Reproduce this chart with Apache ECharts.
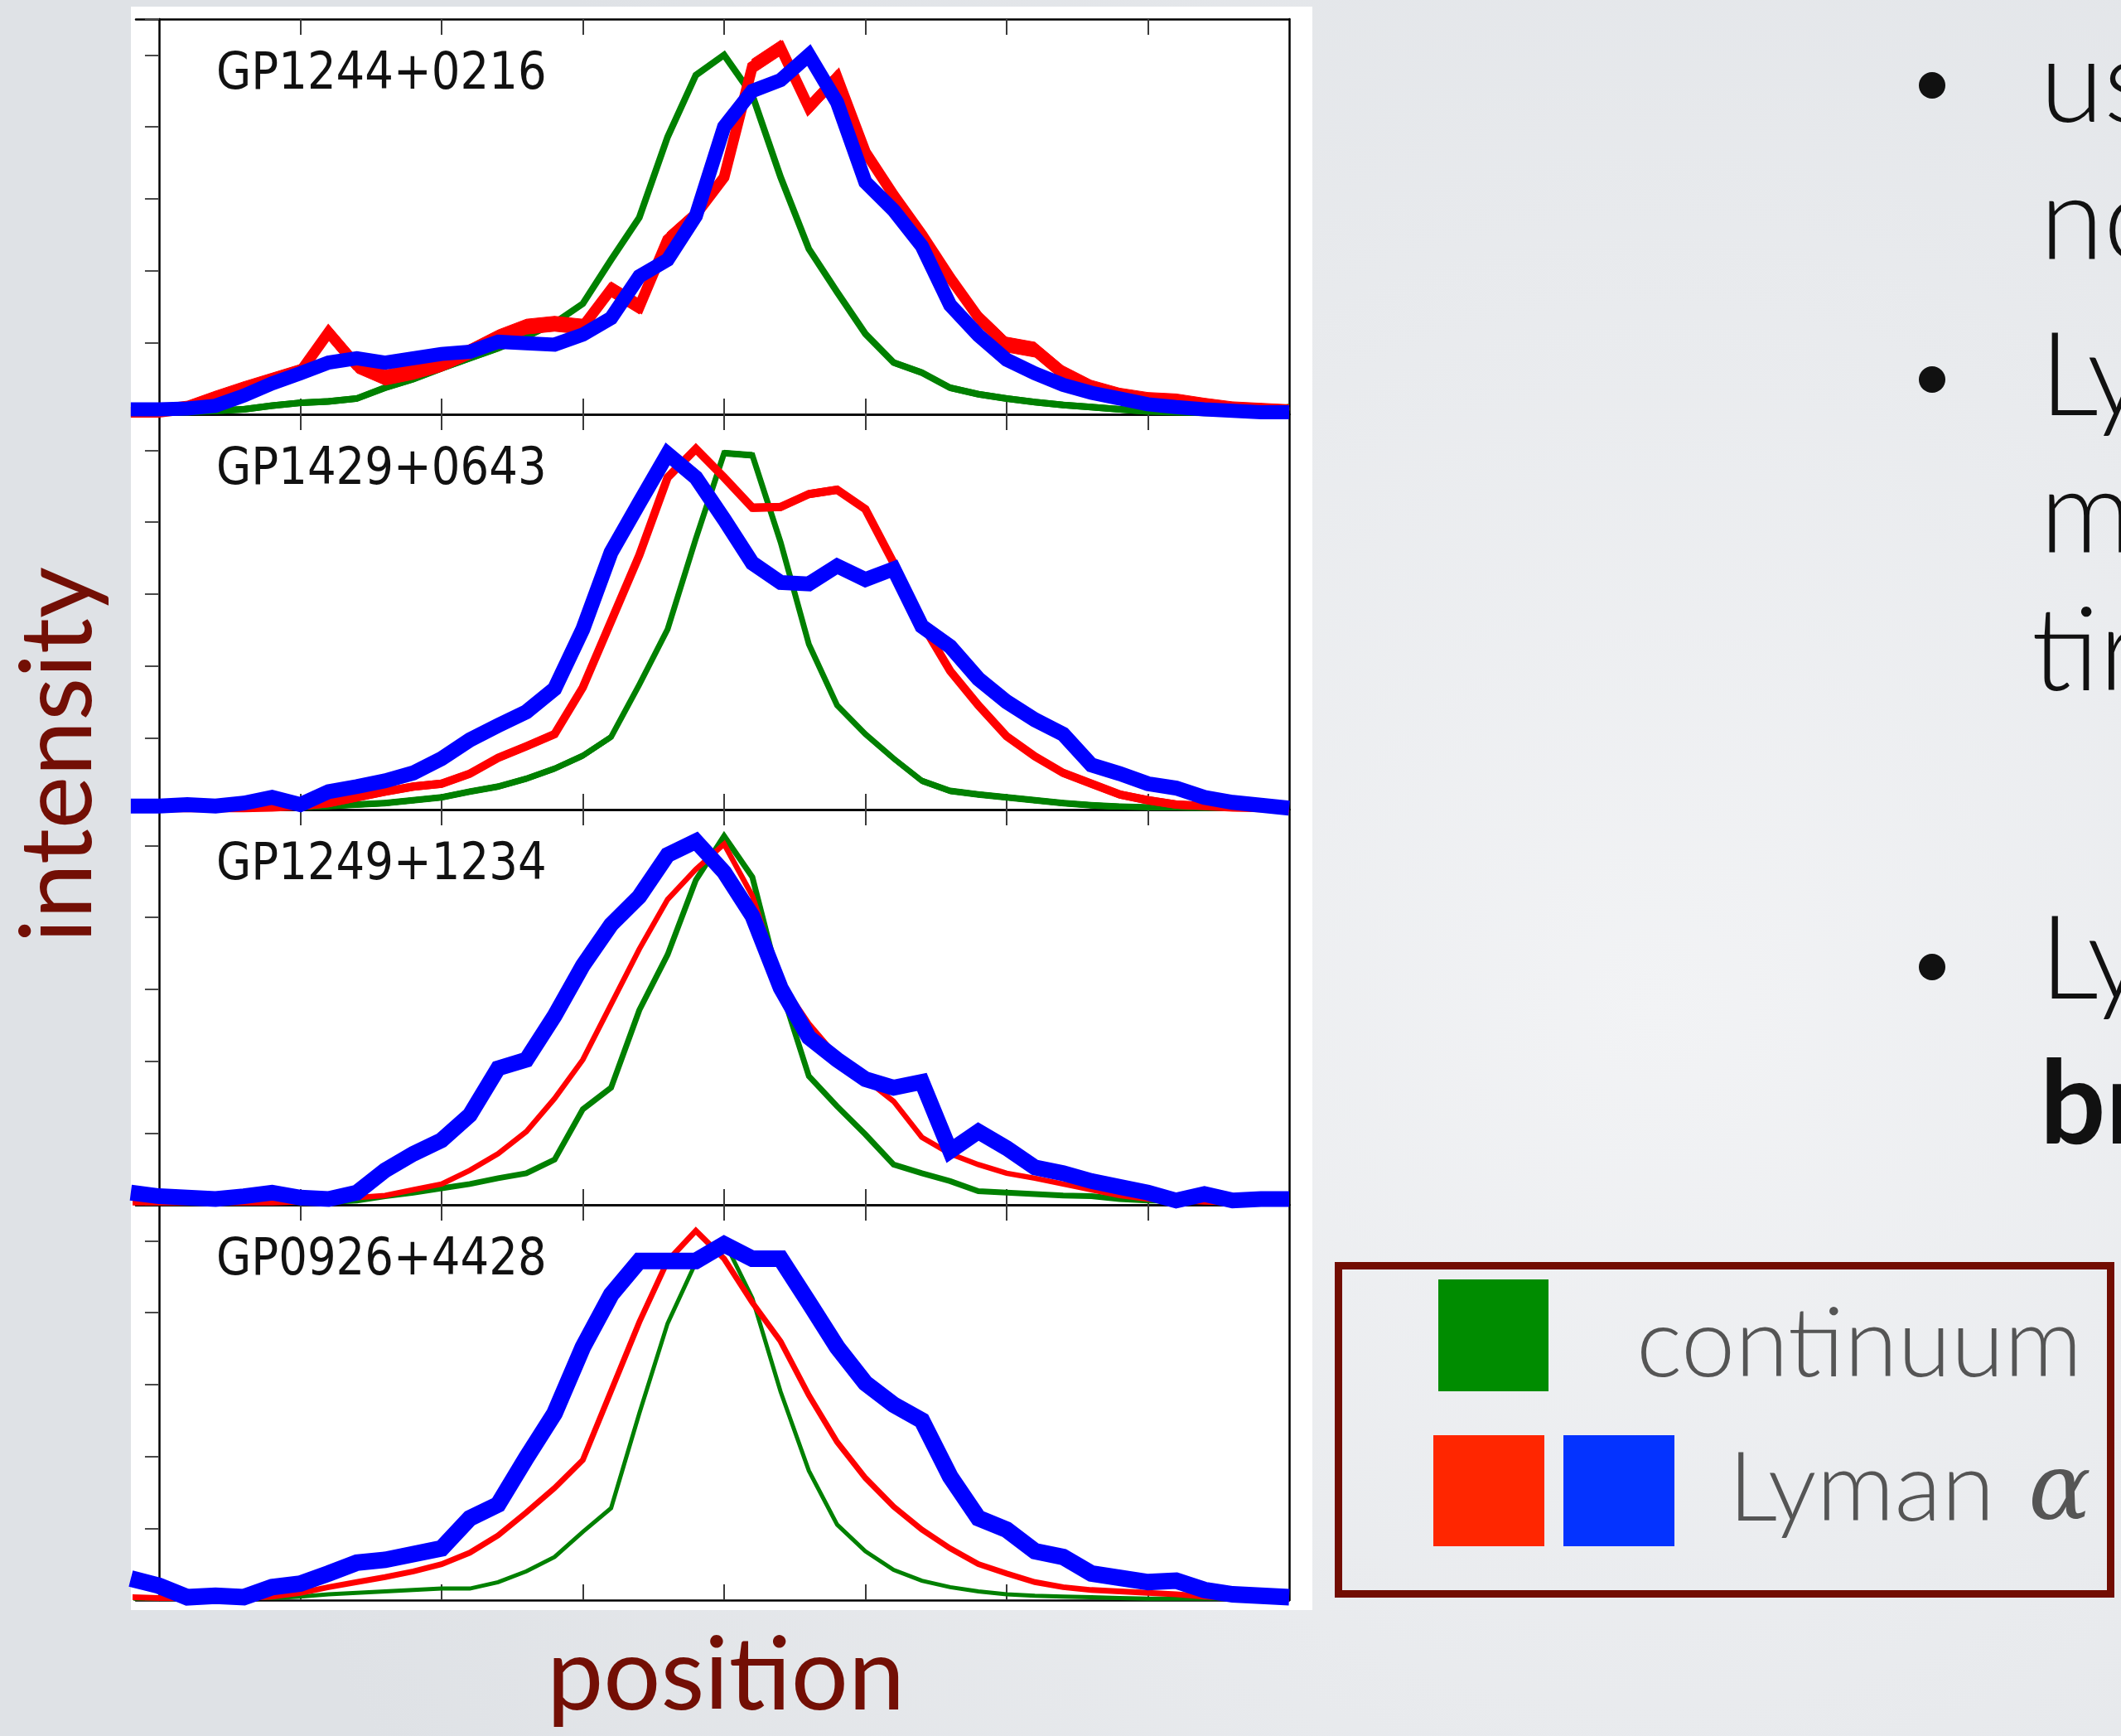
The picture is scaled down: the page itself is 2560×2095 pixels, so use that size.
<!DOCTYPE html>
<html>
<head>
<meta charset="utf-8">
<script src="https://cdn.jsdelivr.net/npm/echarts@6/dist/echarts.min.js"></script>
<style>
html,body{margin:0;padding:0;background:#e8eaed;}
#c{width:2560px;height:2095px;}
</style>
</head>
<body>
<div id="c"></div>
<script>
// ---------- data ----------
const positions = [-0.2,0,0.2,0.4,0.6,0.8,1,1.2,1.4,1.6,1.8,2,2.2,2.4,2.6,2.8,3,3.2,3.4,3.6,3.8,4,4.2,4.4,4.6,4.8,5,5.2,5.4,5.6,5.8,6,6.2,6.4,6.6,6.8,7,7.2,7.4,7.6,7.8,8];
const xTickValues = [1,2,3,4,5,6,7];
const panelNames = ['GP1244+0216','GP1429+0643','GP1249+1234','GP0926+4428'];

const continuum1 = [0.03, 0.03,0.03,0.05,0.07,0.12,0.16,0.18,0.22,0.37,0.49, 0.64,0.78,0.92,1.08,1.27,1.54,2.15,2.74,3.86,4.72, 5.0,4.44,3.3,2.3,1.7,1.12,0.72,0.58,0.37,0.28, 0.22,0.17,0.13,0.1,0.07,0.04,0.03,0.02,0.02,0.03, 0.1];
const lymanRed1  = [0.03, 0.03,0.08,0.22,0.35,0.47,0.59,1.14,0.68,0.51,0.59, 0.70,0.87,1.07,1.22,1.26,1.22,1.74,1.5,2.43,2.78, 3.3,4.84,5.1,4.27,4.69,3.65,3.05,2.5,1.9,1.35, 0.97,0.9,0.57,0.37,0.26,0.2,0.18,0.12,0.07,0.05, 0.03];
const lymanBlue1 = [0.07, 0.07,0.08,0.12,0.26,0.43,0.57,0.72,0.78,0.72,0.78, 0.84,0.87,1.01,0.99,0.97,1.11,1.34,1.92,2.15,2.76, 4.0,4.5,4.65,5.0,4.34,3.23,2.84,2.34,1.52,1.1, 0.76,0.57,0.41,0.3,0.22,0.14,0.1,0.07,0.05,0.03, 0.03];

const continuum2 = [0.03, 0.03,0.03,0.03,0.03,0.03,0.03,0.05,0.07,0.09,0.13, 0.17,0.25,0.32,0.43,0.57,0.75,1.01,1.74,2.51,3.77, 4.96,4.93,3.72,2.3,1.45,1.05,0.71,0.4,0.26,0.21, 0.17,0.13,0.09,0.06,0.04,0.03,0.03,0.02,0.02,0.02, 0.02];
const lymanRed2  = [0.02, 0.02,0.02,0.02,0.02,0.03,0.05,0.09,0.17,0.25,0.32, 0.36,0.5,0.72,0.88,1.05,1.7,2.62,3.54,4.62,5.02, 4.62,4.2,4.21,4.39,4.45,4.18,3.43,2.59,1.93,1.45, 1.02,0.74,0.51,0.36,0.21,0.13,0.07,0.05,0.03,0.02, 0.02];
const lymanBlue2 = [0.05, 0.05,0.07,0.05,0.09,0.17,0.07,0.25,0.32,0.4,0.51, 0.71,0.97,1.17,1.36,1.68,2.51,3.58,4.27,4.95,4.62, 4.04,3.43,3.16,3.14,3.39,3.2,3.35,2.55,2.27,1.82, 1.5,1.25,1.05,0.62,0.5,0.36,0.3,0.17,0.1,0.06, 0.02];

const continuum3 = [0.1, 0.1,0.08,0.06,0.04,0.04,0.04,0.04,0.06,0.12,0.17, 0.23,0.29,0.37,0.44,0.63,1.33,1.63,2.71,3.48,4.52, 5.13,4.56,3.02,1.79,1.37,0.98,0.56,0.44,0.33,0.19, 0.17,0.15,0.13,0.12,0.08,0.06,0.06,0.08,0.1,0.1, 0.1];
const lymanRed3  = [0.03, 0.03,0.03,0.03,0.03,0.03,0.04,0.06,0.1,0.13,0.21, 0.29,0.48,0.71,1.02,1.48,2.02,2.79,3.56,4.25,4.67, 5.02,4.3,3.1,2.52,2.06,1.75,1.44,0.94,0.71,0.56, 0.44,0.37,0.29,0.21,0.13,0.08,0.06,0.04,0.03,0.03, 0.03];
const lymanBlue3 = [0.17, 0.12,0.1,0.08,0.12,0.17,0.1,0.08,0.17,0.48,0.71, 0.9,1.25,1.9,2.02,2.63,3.33,3.9,4.29,4.87,5.06, 4.63,4.02,3.02,2.33,2.02,1.75,1.63,1.71,0.75,1.02, 0.79,0.52,0.44,0.33,0.25,0.17,0.06,0.15,0.06,0.08, 0.08];

const continuum4 = [0.02, 0.02,0.03,0.03,0.03,0.03,0.05,0.08,0.1,0.12,0.14, 0.16,0.16,0.25,0.4,0.6,0.95,1.28,2.6,3.85,4.7, 5.0,4.2,2.9,1.8,1.05,0.68,0.42,0.27,0.18,0.12, 0.08,0.06,0.05,0.04,0.03,0.02,0.02,0.02,0.02,0.02, 0.02];
const lymanRed4  = [0.04, 0.03,0.03,0.03,0.03,0.05,0.1,0.18,0.25,0.32,0.4, 0.5,0.66,0.9,1.22,1.56,1.95,2.91,3.87,4.72,5.14, 4.75,4.14,3.6,2.85,2.2,1.7,1.3,0.98,0.72,0.5, 0.37,0.25,0.18,0.14,0.12,0.1,0.08,0.05,0.03,0.02, 0.02];
const lymanBlue4 = [0.3, 0.2,0.04,0.06,0.04,0.18,0.23,0.37,0.52,0.56,0.64, 0.72,1.14,1.33,1.98,2.6,3.52,4.25,4.72,4.72,4.72, 4.95,4.75,4.75,4.14,3.52,3.02,2.72,2.5,1.72,1.14, 0.98,0.68,0.6,0.37,0.31,0.25,0.27,0.14,0.08,0.06, 0.04];

const legendLabels = ['continuum', 'Lyman', 'α'];
const bulletLines = ['us', 'no', 'Ly', 'm', 'tir', 'Ly', 'br'];

// ---------- styles / layout ----------
const panelData = [
  [continuum1, lymanRed1, lymanBlue1],
  [continuum2, lymanRed2, lymanBlue2],
  [continuum3, lymanRed3, lymanBlue3],
  [continuum4, lymanRed4, lymanBlue4]
];
const lineColors = ['#008000', '#ff0000', '#0000ff'];
// centre-line width (px) and vertical band thickness (px) per panel: [green, red, blue]
const lineWidths = [[8, 13, 17], [7, 10, 18], [7, 6.5, 19], [5, 7, 20]];
const bandPx     = [[7, 18, 10], [7, 9, 8], [3, 2, 9], [1, 1, 15]];
const panelTops = [23, 500, 977, 1454];
const PANEL_H = 477;
const Y_MAX = 5.5;
const PX_PER_UNIT = PANEL_H / Y_MAX;
const GRID_LEFT = 164, GRID_W = 1392;
const DARK_RED = '#730f05';

const grids = [], xAxes = [], yAxes = [], series = [], graphics = [];

// background
graphics.push({
  type: 'rect', z: -20, silent: true,
  shape: { x: 0, y: 0, width: 2560, height: 2095 },
  style: { fill: { type: 'radial', x: 0.78, y: 0.58, r: 0.85,
    colorStops: [{ offset: 0, color: '#f2f3f5' }, { offset: 1, color: '#dfe2e6' }] } }
});
graphics.push({
  type: 'rect', z: -19, silent: true,
  shape: { x: 158, y: 8, width: 1426, height: 1935 },
  style: { fill: '#ffffff' }
});

function bandSeries(k, s, arr) {
  const half = bandPx[k][s] / 2 / PX_PER_UNIT;
  const color = lineColors[s];
  const segs = positions.slice(0, -1).map((x, i) => [x, arr[i], positions[i + 1], arr[i + 1]]);
  return {
    type: 'custom', xAxisIndex: 2 * k, yAxisIndex: 2 * k, silent: true, clip: true,
    z: 2 + 2 * s,
    data: segs,
    encode: { x: [0, 2], y: [1, 3] },
    renderItem: function (params, api) {
      const x0 = api.value(0), y0 = api.value(1), x1 = api.value(2), y1 = api.value(3);
      const pts = [api.coord([x0, y0 + half]), api.coord([x1, y1 + half]),
                   api.coord([x1, y1 - half]), api.coord([x0, y0 - half])];
      return { type: 'polygon', shape: { points: pts }, style: { fill: color, stroke: color, lineWidth: 1 } };
    }
  };
}

panelTops.forEach((top, k) => {
  grids.push({ left: GRID_LEFT, top: top, width: GRID_W, height: PANEL_H, containLabel: false, outerBoundsMode: 'none' });
  const xBase = {
    type: 'value', gridIndex: k, min: -0.164, max: 8,
    axisLabel: { show: false }, splitLine: { show: false },
    axisLine: { show: true, onZero: false, lineStyle: { color: '#000', width: 2.5 } },
    axisTick: { show: true, inside: true, length: 19, customValues: xTickValues,
      lineStyle: { color: '#3a3a3a', width: 2 } }
  };
  xAxes.push(Object.assign({}, xBase, { position: 'bottom' }));
  xAxes.push(Object.assign({}, xBase, { position: 'top' }));
  yAxes.push({
    type: 'value', gridIndex: k, position: 'left', min: 0, max: Y_MAX, interval: 1,
    axisLabel: { show: false }, splitLine: { show: false },
    axisLine: { show: true, onZero: true, onZeroAxisIndex: 2 * k, lineStyle: { color: '#000', width: 2.5 } },
    axisTick: { show: true, inside: false, length: 17, lineStyle: { color: '#4a4a4a', width: 2 } }
  });
  yAxes.push({
    type: 'value', gridIndex: k, position: 'right', min: 0, max: Y_MAX,
    axisLabel: { show: false }, splitLine: { show: false }, axisTick: { show: false },
    axisLine: { show: true, onZero: false, lineStyle: { color: '#000', width: 2.5 } }
  });
  panelData[k].forEach((arr, s) => {
    series.push(bandSeries(k, s, arr));
    series.push({
      type: 'line', xAxisIndex: 2 * k, yAxisIndex: 2 * k,
      data: positions.map((x, i) => [x, arr[i]]),
      showSymbol: false, symbol: 'none', clip: true, silent: true,
      z: 3 + 2 * s,
      lineStyle: { color: lineColors[s], width: lineWidths[k][s], join: 'miter', miterLimit: 3, cap: 'butt' }
    });
  });
  graphics.push({
    type: 'text', x: 261, y: top + 67.5, scaleX: 0.88, z: 10, silent: true,
    style: { text: panelNames[k], font: '62px "DejaVu Sans"', fill: '#111',
      textAlign: 'left', align: 'left', textVerticalAlign: 'middle', verticalAlign: 'middle' }
  });
});

// axis titles
graphics.push({
  type: 'text', x: 876, y: 2024, z: 10, silent: true,
  style: { text: 'position', font: '122px Lato', fill: DARK_RED,
    textAlign: 'center', align: 'center', textVerticalAlign: 'middle', verticalAlign: 'middle' }
});
graphics.push({
  type: 'text', x: 71, y: 911, rotation: Math.PI / 2, z: 10, silent: true,
  style: { text: 'intensity', font: '120px Lato', fill: DARK_RED,
    textAlign: 'center', align: 'center', textVerticalAlign: 'middle', verticalAlign: 'middle' }
});

// bullet text (cut by the right edge of the slide)
const bulletBaselines = [156, 322, 510, 676, 842, 1214, 1389];
bulletLines.forEach((t, i) => {
  graphics.push({
    type: 'text', x: i === 4 ? 2452 : 2462, y: bulletBaselines[i] - 54, z: 10, silent: true,
    style: { text: t, font: (i === 6 ? 'bold ' : '300 ') + '140px Lato', fill: '#111',
      textAlign: 'left', align: 'left', textVerticalAlign: 'middle', verticalAlign: 'middle' }
  });
});
[103, 458, 1167].forEach(cy => {
  graphics.push({ type: 'circle', z: 10, silent: true, shape: { cx: 2332, cy: cy, r: 16 }, style: { fill: '#111' } });
});

// legend box
graphics.push({
  type: 'rect', z: 10, silent: true,
  shape: { x: 1615.5, y: 1527.5, width: 932, height: 396 },
  style: { fill: 'none', stroke: '#720d02', lineWidth: 9 }
});
graphics.push({ type: 'rect', z: 10, silent: true, shape: { x: 1736, y: 1544, width: 133, height: 135 }, style: { fill: '#008c00' } });
graphics.push({ type: 'rect', z: 10, silent: true, shape: { x: 1730, y: 1732, width: 134, height: 134 }, style: { fill: '#ff2600' } });
graphics.push({ type: 'rect', z: 10, silent: true, shape: { x: 1887, y: 1732, width: 134, height: 134 }, style: { fill: '#0433ff' } });
graphics.push({
  type: 'text', x: 1975, y: 1668 - 45, z: 10, silent: true,
  style: { text: legendLabels[0], font: '300 117px Lato', fill: '#555',
    textAlign: 'left', align: 'left', textVerticalAlign: 'middle', verticalAlign: 'middle' }
});
graphics.push({
  type: 'text', x: 2086, y: 1842 - 45, z: 10, silent: true,
  style: { text: legendLabels[1], font: '300 117px Lato', fill: '#555',
    textAlign: 'left', align: 'left', textVerticalAlign: 'middle', verticalAlign: 'middle' }
});
graphics.push({
  type: 'text', x: 2524, y: 1842 - 38, z: 10, silent: true,
  style: { text: legendLabels[2], font: 'italic 112px "DejaVu Serif"', fill: '#555',
    textAlign: 'right', align: 'right', textVerticalAlign: 'middle', verticalAlign: 'middle' }
});

const chart = echarts.init(document.getElementById('c'), null, { renderer: 'canvas', width: 2560, height: 2095 });
chart.setOption({
  animation: false,
  backgroundColor: '#e8eaed',
  grid: grids,
  xAxis: xAxes,
  yAxis: yAxes,
  series: series,
  graphic: { elements: graphics }
});
</script>
</body>
</html>
